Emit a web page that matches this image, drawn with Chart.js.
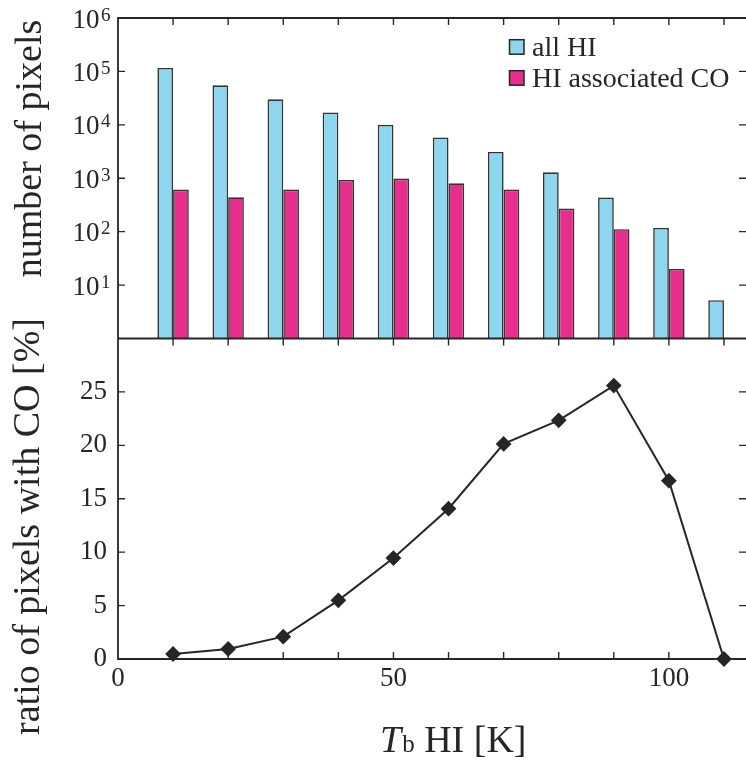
<!DOCTYPE html>
<html>
<head>
<meta charset="utf-8">
<script src="https://cdn.jsdelivr.net/npm/chart.js@4.4.1/dist/chart.umd.min.js"></script>
<style>
  html, body { margin: 0; padding: 0; background: #fff; }
  canvas { display: block; }
</style>
</head>
<body>
<canvas id="tbChart" width="746" height="769"></canvas>
<script>
// brightness temperature bins [K]
const temps = [10, 20, 30, 40, 50, 60, 70, 80, 90, 100, 110];
// pixel counts per bin
const allHI = [116000, 55000, 30000, 17100, 10000, 5800, 3100, 1290, 434, 118, 5.2];
const hiCO = [614, 440, 614, 930, 985, 805, 614, 270, 111, 20, null];
// share of pixels with CO [%]
const ratioCO = [0.47, 0.94, 2.09, 5.49, 9.45, 14.07, 20.13, 22.34, 25.59, 16.69, 0];

// axis ticks
const xLabelTicks = [0, 50, 100];
const xMarkTicks = [10, 20, 30, 40, 50, 60, 70, 80, 90, 100, 110];
const logExponents = [1, 2, 3, 4, 5, 6];
const ratioTicks = [0, 5, 10, 15, 20, 25];

const INK = "#262626";
const SERIF = '"Liberation Serif", "Times New Roman", serif';
Chart.defaults.font.family = SERIF;
Chart.defaults.color = INK;

// axis boxes get fixed sizes and no label overhang
function fixBox(w, h) {
	return s => {
		if (w) s.width = w;
		if (h) s.height = h;
		s.paddingLeft = s.paddingRight = s.paddingTop = s.paddingBottom = 0;
	};
}

// frame + inward tick marks for both panels (right side runs off the canvas)
const panelFrame = {
	id: "panelFrame",
	afterDatasetsDraw(chart) {
		const { ctx, chartArea: a, scales } = chart;
		const yTop = scales.yTop, yBot = scales.yBot, x = scales.x;
		const mid = yTop.bottom;
		const tl = 7;
		ctx.save();
		ctx.strokeStyle = INK;
		ctx.lineWidth = 1.8;
		ctx.beginPath();
		ctx.moveTo(a.right, a.top); ctx.lineTo(a.left, a.top);
		ctx.lineTo(a.left, a.bottom); ctx.lineTo(a.right, a.bottom);
		ctx.moveTo(a.left, mid); ctx.lineTo(a.right, mid);
		ctx.stroke();

		ctx.lineWidth = 1.4;
		ctx.beginPath();
		xMarkTicks.forEach(v => {
			const px = x.getPixelForValue(v);
			ctx.moveTo(px, a.top); ctx.lineTo(px, a.top + tl);
			ctx.moveTo(px, mid); ctx.lineTo(px, mid + tl);
			ctx.moveTo(px, a.bottom); ctx.lineTo(px, a.bottom - tl);
		});
		logExponents.slice(0, -1).forEach(e => {
			const py = yTop.getPixelForValue(Math.pow(10, e));
			ctx.moveTo(a.left, py); ctx.lineTo(a.left + tl, py);
			ctx.moveTo(a.right, py); ctx.lineTo(a.right - tl, py);
		});
		ratioTicks.slice(1).forEach(v => {
			const py = yBot.getPixelForValue(v);
			ctx.moveTo(a.left, py); ctx.lineTo(a.left + tl, py);
			ctx.moveTo(a.right, py); ctx.lineTo(a.right - tl, py);
		});
		ctx.stroke();
		ctx.restore();
	},
	afterDraw(chart) {
		const { ctx, scales } = chart;
		const yTop = scales.yTop;
		ctx.save();
		ctx.fillStyle = INK;

		// 10^n labels on the log axis
		logExponents.forEach(e => {
			const py = yTop.getPixelForValue(Math.pow(10, e));
			ctx.font = "27px " + SERIF;
			ctx.textAlign = "right";
			ctx.textBaseline = "alphabetic";
			ctx.fillText("10", 99.5, py + 9.5);
			ctx.font = "19px " + SERIF;
			ctx.textAlign = "left";
			ctx.fillText(String(e), 101, py + 2.5);
		});

		// y titles
		ctx.font = "38px " + SERIF;
		ctx.textAlign = "center";
		ctx.textBaseline = "alphabetic";
		ctx.save();
		ctx.translate(41, 148.5);
		ctx.rotate(-Math.PI / 2);
		ctx.fillText("number of pixels", 0, 0);
		ctx.restore();
		ctx.save();
		ctx.translate(38.5, 526.5);
		ctx.rotate(-Math.PI / 2);
		ctx.fillText("ratio of pixels with CO [%]", 0, 0);
		ctx.restore();

		// x title: T_b HI [K]
		ctx.textAlign = "left";
		let cx = 380;
		const base = 752;
		ctx.font = "italic 38px " + SERIF;
		ctx.fillText("T", cx, base);
		cx += ctx.measureText("T").width + 1;
		ctx.font = "25px " + SERIF;
		ctx.fillText("b", cx, base);
		cx += ctx.measureText("b").width;
		ctx.font = "38px " + SERIF;
		ctx.fillText(" HI [K]", cx, base);

		// legend
		const items = [
			{ text: "all HI", color: chart.data.datasets[0].backgroundColor, y: 55.7 },
			{ text: "HI associated CO", color: chart.data.datasets[1].backgroundColor, y: 86.7 }
		];
		ctx.font = "28px " + SERIF;
		items.forEach(it => {
			ctx.fillStyle = it.color;
			ctx.fillRect(509.5, it.y - 16, 14.5, 14.5);
			ctx.strokeStyle = INK;
			ctx.lineWidth = 1.5;
			ctx.strokeRect(509.5, it.y - 16, 14.5, 14.5);
			ctx.fillStyle = INK;
			ctx.fillText(it.text, 532, it.y);
		});
		ctx.restore();
	}
};

const ctx = document.getElementById("tbChart").getContext("2d");

let tbChart = new Chart(ctx, {
	type: "bar",
	data: {
		datasets: [
			{
				label: "all HI",
				data: temps.map((t, i) => ({ x: t, y: allHI[i] })),
				backgroundColor: "#8ed5ee",
				borderColor: "#333",
				borderWidth: 1.6,
				xAxisID: "x",
				yAxisID: "yTop",
				categoryPercentage: 0.57,
				barPercentage: 1.0,
			},
			{
				label: "HI associated CO",
				data: temps.map((t, i) => ({ x: t, y: hiCO[i] })),
				backgroundColor: "#e82e8c",
				borderColor: "#333",
				borderWidth: 1.6,
				xAxisID: "x",
				yAxisID: "yTop",
				categoryPercentage: 0.57,
				barPercentage: 1.0,
			},
			{
				type: "line",
				label: "ratio",
				data: temps.map((t, i) => ({ x: t, y: ratioCO[i] })),
				borderColor: INK,
				borderWidth: 2,
				backgroundColor: INK,
				pointStyle: "rectRot",
				pointRadius: 6.5,
				pointBackgroundColor: INK,
				pointBorderColor: INK,
				tension: 0,
				clip: false,
				xAxisID: "x",
				yAxisID: "yBot",
			}
		],
	},
	options: {
		responsive: false,
		animation: false,
		layout: { autoPadding: false, padding: { top: 18, right: 0, bottom: 0, left: 0 } },
		scales: {
			x: {
				type: "linear",
				position: "bottom",
				offset: false,
				min: 0,
				max: 114,
				grid: { display: false, drawTicks: false, offset: false },
				border: { display: false },
				ticks: {
					font: { size: 27 },
					color: INK,
					padding: 4,
					maxRotation: 0,
					autoSkip: false,
				},
				afterBuildTicks: s => { s.ticks = xLabelTicks.map(v => ({ value: v })); },
				afterFit: fixBox(0, 110),
			},
			yBot: {
				type: "linear",
				position: "left",
				stack: "panels",
				stackWeight: 1,
				min: 0,
				max: 30,
				grid: { display: false, drawTicks: false },
				border: { display: false },
				ticks: {
					font: { size: 27 },
					color: INK,
					padding: 11,
				},
				afterBuildTicks: s => { s.ticks = ratioTicks.map(v => ({ value: v })); },
				afterFit: fixBox(118, 0),
			},
			yTop: {
				type: "logarithmic",
				position: "left",
				stack: "panels",
				stackWeight: 1,
				min: 1,
				max: 1e6,
				grid: { display: false, drawTicks: false },
				border: { display: false },
				ticks: { display: false },
				afterBuildTicks: s => { s.ticks = logExponents.map(e => ({ value: Math.pow(10, e) })); },
				afterFit: fixBox(118, 0),
			}
		},
		plugins: {
			legend: { display: false },
			tooltip: { enabled: false }
		}
	},
	plugins: [panelFrame]
});
</script>
</body>
</html>
